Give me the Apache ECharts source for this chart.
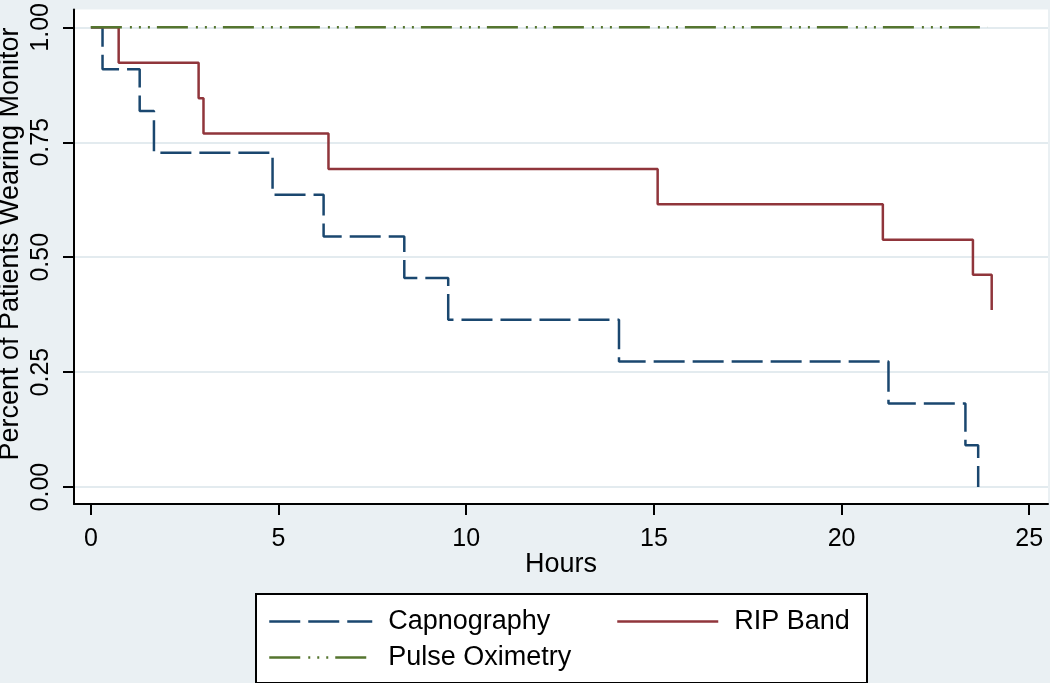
<!DOCTYPE html>
<html>
<head>
<meta charset="utf-8">
<script src="https://cdn.jsdelivr.net/npm/echarts@6/dist/echarts.min.js"></script>
<style>
html,body{margin:0;padding:0;background:#eaf0f3;}
#chart{width:1050px;height:683px;}
</style>
</head>
<body>
<div id="chart"></div>
<script>
// ---- data ----
const capTime = [0, 0.31, 1.30, 1.68, 4.84, 6.20, 8.35, 9.52, 14.07, 21.25, 23.30, 23.64];
const capSurv = [1.0, 0.909, 0.818, 0.727, 0.636, 0.545, 0.455, 0.364, 0.273, 0.182, 0.091, 0.0];
const ripTime = [0, 0.74, 2.87, 3.00, 6.33, 15.10, 21.10, 23.50, 24.00];
const ripSurv = [1.0, 0.923, 0.846, 0.769, 0.692, 0.615, 0.538, 0.462, 0.385];
const pulseTime = [0, 23.9];
const pulseSurv = [1.0, 1.0];
const xTicks = [0, 5, 10, 15, 20, 25];
const yTicks = [0, 0.25, 0.5, 0.75, 1.0];
const seriesNames = ['Capnography', 'RIP Band', 'Pulse Oximetry'];
const xTitle = 'Hours';
const yTitle = 'Percent of Patients Wearing Monitor';

const pair = (xs, ys) => xs.map((x, i) => [x, ys[i]]);
const FONT = 'Liberation Sans';

const chart = echarts.init(document.getElementById('chart'), null, {renderer: 'canvas'});
const legendText = (pad) => ({fontFamily: FONT, fontSize: 27, color: '#000', padding: [0, 0, 0, pad]});
const legendCommon = {padding: 0, itemHeight: 14, itemStyle: {opacity: 0}, lineStyle: {width: 2.5}};
chart.setOption({
  backgroundColor: '#eaf0f3',
  animation: false,
  grid: {left: 74, top: 7, right: 2, bottom: 179, show: true, backgroundColor: '#ffffff', borderWidth: 0},
  xAxis: {
    type: 'value', min: -0.45, max: 25.5,
    name: xTitle, nameLocation: 'middle', nameGap: 47, nameMoveOverlap: false,
    nameTextStyle: {fontFamily: FONT, fontSize: 27, color: '#000'},
    axisLine: {show: true, onZero: false, lineStyle: {color: '#000', width: 2}},
    axisTick: {show: true, length: 11, customValues: xTicks, lineStyle: {color: '#000', width: 2}},
    axisLabel: {customValues: xTicks, margin: 23, fontFamily: FONT, fontSize: 25, color: '#000'},
    splitLine: {show: false}
  },
  yAxis: {
    type: 'value', min: -0.0368, max: 1.039,
    axisLine: {show: true, onZero: false, lineStyle: {color: '#000', width: 2}},
    axisTick: {show: true, length: 11, customValues: yTicks, lineStyle: {color: '#000', width: 2}},
    axisLabel: {customValues: yTicks, rotate: 90, margin: 20, fontFamily: FONT, fontSize: 25, color: '#000',
      formatter: v => v.toFixed(2)},
    splitLine: {show: true, lineStyle: {color: '#e3ebef', width: 2}}
  },
  graphic: [
    {type: 'rect', left: 255, top: 593, shape: {width: 611, height: 89},
     style: {fill: '#ffffff', stroke: '#000', lineWidth: 2}, z: -1},
    {type: 'text', x: 11, y: 244, rotation: Math.PI / 2,
     style: {text: yTitle, font: '27px "Liberation Sans"', fill: '#000', align: 'center', verticalAlign: 'middle'}}
  ],
  legend: [
    Object.assign({data: [seriesNames[0]], left: 268, top: 608, itemWidth: 103, textStyle: legendText(11)}, legendCommon),
    Object.assign({data: [seriesNames[1]], left: 616, top: 608, itemWidth: 101, textStyle: legendText(11)}, legendCommon),
    Object.assign({data: [seriesNames[2]], left: 268, top: 644, itemWidth: 97, textStyle: legendText(17)}, legendCommon)
  ],
  series: [
    {name: seriesNames[0], type: 'line', step: 'end', symbol: 'none', data: pair(capTime, capSurv),
     color: '#1a476f', lineStyle: {color: '#1a476f', width: 2.5, type: [31, 8]}},
    {name: seriesNames[1], type: 'line', step: 'end', symbol: 'none', data: pair(ripTime, ripSurv),
     color: '#90353b', lineStyle: {color: '#90353b', width: 2.5, type: 'solid'}},
    {name: seriesNames[2], type: 'line', symbol: 'none', data: pair(pulseTime, pulseSurv),
     color: '#55752f', lineStyle: {color: '#55752f', width: 2.5, type: [31, 8, 2, 7, 2, 7, 2, 7]}}
  ]
});
</script>
</body>
</html>
